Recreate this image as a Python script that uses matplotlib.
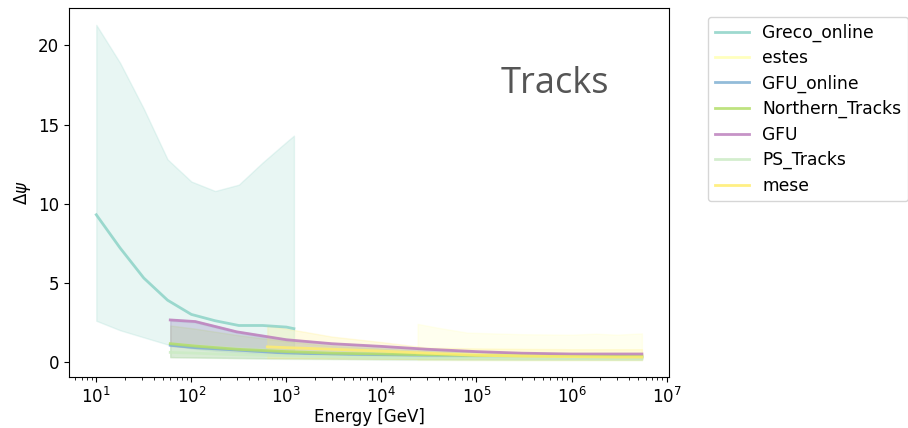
import numpy as np
import matplotlib
matplotlib.use('Agg')
import matplotlib.pyplot as plt

# per-sample energy grid (GeV) and angular error bands
greco_e = [10, 17.8, 31.6, 56.2, 100, 178, 316, 562, 1000, 1200]
greco_med = [9.3, 7.2, 5.3, 3.9, 3.0, 2.6, 2.3, 2.3, 2.2, 2.1]
greco_lo = [2.6, 2.0, 1.55, 1.1, 0.85, 0.7, 0.6, 0.5, 0.45, 0.45]
greco_hi = [21.3, 18.9, 16.0, 12.8, 11.4, 10.8, 11.2, 12.6, 13.9, 14.3]

estes_e = [2.4e4, 4e4, 8e4, 1.5e5, 3e5, 1e6, 1.8e6, 3e6, 5.5e6]
estes_med = [0.5, 0.48, 0.45, 0.43, 0.42, 0.4, 0.4, 0.4, 0.4]
estes_lo = [0.12, 0.12, 0.11, 0.11, 0.1, 0.1, 0.1, 0.1, 0.1]
estes_hi = [2.4, 2.15, 1.85, 1.8, 1.75, 1.72, 1.78, 1.72, 1.8]

trk_e = [60, 110, 300, 1e3, 3e3, 1e4, 3e4, 1e5, 3e5, 1e6, 3e6, 5.5e6]

gfu_online_med = [1.05, 0.9, 0.75, 0.55, 0.48, 0.42, 0.38, 0.35, 0.33, 0.32, 0.31, 0.3]
gfu_online_lo = [0.3, 0.28, 0.25, 0.22, 0.2, 0.18, 0.17, 0.16, 0.15, 0.15, 0.15, 0.15]
gfu_online_hi = [2.6, 2.5, 1.85, 1.35, 1.1, 0.95, 0.78, 0.63, 0.55, 0.5, 0.5, 0.5]

northern_med = [1.15, 1.0, 0.8, 0.65, 0.55, 0.5, 0.45, 0.4, 0.38, 0.36, 0.35, 0.35]
northern_lo = [0.3, 0.28, 0.25, 0.22, 0.2, 0.18, 0.17, 0.16, 0.15, 0.15, 0.15, 0.15]
northern_hi = [2.3, 2.1, 1.7, 1.3, 1.0, 0.85, 0.7, 0.6, 0.55, 0.5, 0.45, 0.45]

gfu_med = [2.65, 2.55, 1.9, 1.4, 1.15, 0.98, 0.8, 0.65, 0.55, 0.5, 0.5, 0.5]
gfu_lo = [1.0, 0.88, 0.72, 0.55, 0.48, 0.42, 0.38, 0.35, 0.33, 0.32, 0.31, 0.3]
gfu_hi = [2.7, 2.6, 1.95, 1.45, 1.2, 1.02, 0.84, 0.68, 0.58, 0.53, 0.52, 0.52]

ps_med = [0.6, 0.55, 0.45, 0.38, 0.32, 0.28, 0.25, 0.23, 0.22, 0.21, 0.2, 0.2]
ps_lo = [0.3, 0.27, 0.22, 0.18, 0.15, 0.13, 0.12, 0.11, 0.1, 0.1, 0.1, 0.1]
ps_hi = [1.2, 1.1, 0.95, 0.8, 0.7, 0.62, 0.55, 0.5, 0.46, 0.44, 0.42, 0.42]

mese_e = [630, 1e3, 3e3, 1e4, 3e4, 1e5, 3e5, 1e6, 3e6, 5.5e6]
mese_med = [0.95, 0.9, 0.8, 0.68, 0.55, 0.42, 0.36, 0.33, 0.3, 0.3]
mese_lo = [0.25, 0.24, 0.22, 0.2, 0.18, 0.17, 0.16, 0.15, 0.15, 0.15]
mese_hi = [2.3, 2.1, 1.6, 1.25, 0.9, 0.85, 0.82, 0.8, 0.8, 0.8]

samples = [
    ('Greco_online', greco_e, greco_med, greco_lo, greco_hi),
    ('estes', estes_e, estes_med, estes_lo, estes_hi),
    ('GFU_online', trk_e, gfu_online_med, gfu_online_lo, gfu_online_hi),
    ('Northern_Tracks', trk_e, northern_med, northern_lo, northern_hi),
    ('GFU', trk_e, gfu_med, gfu_lo, gfu_hi),
    ('PS_Tracks', trk_e, ps_med, ps_lo, ps_hi),
    ('mese', mese_e, mese_med, mese_lo, mese_hi),
]

cmap = plt.get_cmap('Set3')
colors = [cmap(i) for i in [0, 1, 4, 6, 9, 10, 11]]

fig = plt.figure(figsize=(9.08, 4.28), dpi=100)
ax = fig.add_axes([0.076, 0.119, 0.661, 0.862])

for (name, e, med, lo, hi), c in zip(samples, colors):
    ax.plot(e, med, color=c, lw=2, alpha=0.85, label=name)
    ax.fill_between(e, lo, hi, color=c, alpha=0.2)

ax.set_xscale('log')
ax.set_xlabel('Energy [GeV]', fontsize=12, labelpad=1)
ax.set_ylabel(r'$\Delta\psi$', fontsize=12)
ax.tick_params(labelsize=12)
ax.set_yticks([0, 5, 10, 15, 20])

ax.text(0.81, 0.795, 'Tracks', transform=ax.transAxes, ha='center', va='center',
        fontsize=26, color='#555555', family='Open Sans')

ax.legend(bbox_to_anchor=(1.05, 1), loc='upper left', fontsize=12.3,
          labelspacing=0.43)

fig.savefig('out.png', dpi=100)
